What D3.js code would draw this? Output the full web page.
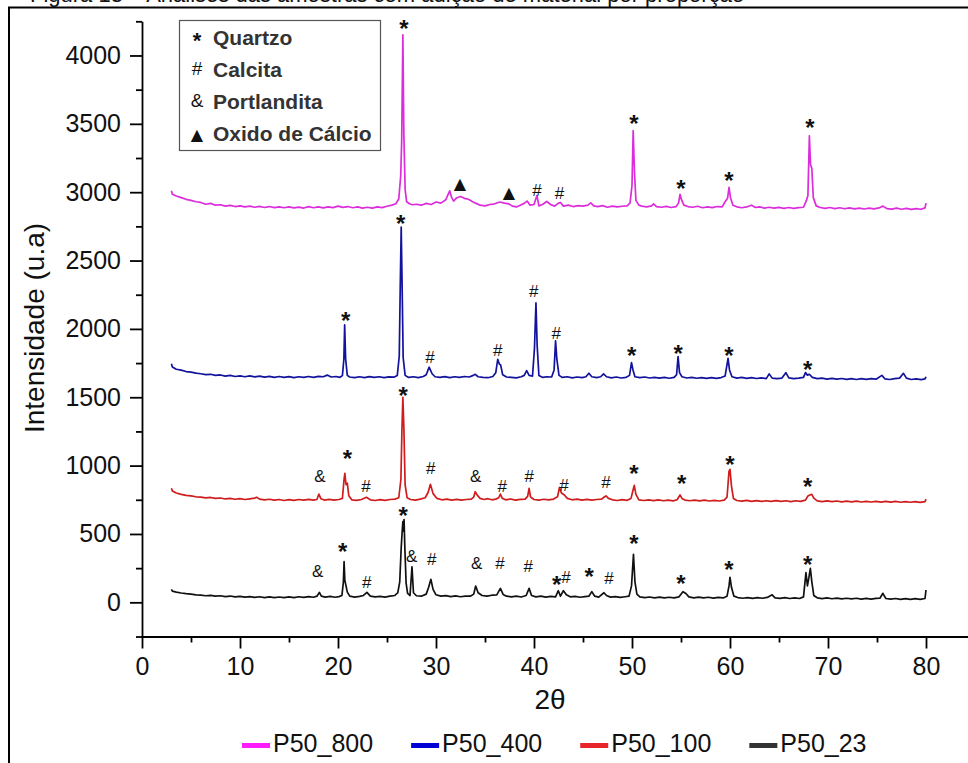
<!DOCTYPE html>
<html>
<head>
<meta charset="utf-8">
<script src="https://cdn.jsdelivr.net/npm/d3@7"></script>
<style>
  body { margin: 0; background: #fff; }
  text { font-family: Arial, "Liberation Sans", sans-serif; }
</style>
</head>
<body>
<svg id="chart" width="968" height="763"></svg>
<script>
const width = 968,
  height = 763;

// tick values
const xMajor = [0, 10, 20, 30, 40, 50, 60, 70, 80];
const xMinor = [5, 15, 25, 35, 45, 55, 65, 75, 85];
const yMajor = [0, 500, 1000, 1500, 2000, 2500, 3000, 3500, 4000];
const yMinor = [-250, 250, 750, 1250, 1750, 2250, 2750, 3250, 3750, 4250];

const seriesNames = ["P50_800", "P50_400", "P50_100", "P50_23"];

// [2theta, intensidade]
const p50_800 = [
  [3.0, 3010], [3.1, 2985], [3.5, 2972], [4.0, 2960], [4.5, 2948], [5.0, 2940], [5.5, 2930], [6.0, 2925],
  [6.5, 2912], [7.0, 2918], [7.5, 2905], [8.0, 2908], [8.5, 2898], [9.0, 2904], [9.5, 2895], [10.0, 2900],
  [10.5, 2892], [11.0, 2898], [11.5, 2890], [12.0, 2896], [12.5, 2888], [13.0, 2895], [13.5, 2887], [14.0, 2893],
  [14.5, 2886], [15.0, 2892], [15.5, 2885], [16.0, 2891], [16.5, 2884], [17.0, 2894], [17.5, 2886], [18.0, 2892],
  [18.5, 2885], [19.0, 2893], [19.5, 2887], [20.0, 2898], [20.5, 2889], [21.0, 2895], [21.5, 2886], [22.0, 2892],
  [22.5, 2884], [23.0, 2890], [23.5, 2883], [24.0, 2893], [24.5, 2887], [25.0, 2897], [25.5, 2905], [25.9, 2915],
  [26.2, 2950], [26.4, 3120], [26.5, 3380], [26.62, 4150], [26.72, 3420], [26.85, 3020], [27.0, 2930], [27.3, 2915],
  [27.6, 2908], [28.0, 2912], [28.5, 2905], [29.0, 2918], [29.5, 2910], [30.0, 2928], [30.5, 2920], [31.0, 2945],
  [31.4, 3010], [31.6, 2960], [31.8, 2935], [32.1, 2958], [32.5, 2968], [32.9, 2955], [33.3, 2948], [33.7, 2932],
  [34.1, 2918], [34.5, 2905], [35.0, 2900], [35.5, 2910], [36.0, 2915], [36.5, 2928], [37.0, 2920], [37.4, 2915],
  [37.8, 2898], [38.2, 2892], [38.6, 2905], [39.0, 2918], [39.3, 2935], [39.6, 2905], [40.0, 2910], [40.3, 2975],
  [40.5, 2900], [40.9, 2912], [41.3, 2932], [41.7, 2910], [42.1, 2898], [42.5, 2920], [42.7, 2925], [43.0, 2898],
  [43.5, 2905], [44.0, 2895], [44.5, 2902], [45.0, 2898], [45.5, 2905], [45.8, 2922], [46.1, 2900], [46.5, 2895],
  [47.0, 2902], [47.5, 2890], [48.0, 2898], [48.5, 2892], [49.0, 2897], [49.5, 2900], [49.8, 2920], [50.0, 3050],
  [50.12, 3450], [50.25, 3150], [50.4, 2940], [50.7, 2905], [51.0, 2898], [51.5, 2893], [52.0, 2900], [52.2, 2915],
  [52.5, 2895], [53.0, 2890], [53.5, 2896], [54.0, 2888], [54.5, 2895], [54.75, 2920], [54.9, 2985], [55.05, 2945],
  [55.3, 2905], [55.7, 2895], [56.2, 2890], [56.7, 2897], [57.2, 2886], [57.7, 2893], [58.2, 2887], [58.7, 2895],
  [59.2, 2892], [59.5, 2930], [59.75, 2955], [59.9, 3036], [60.05, 2960], [60.3, 2905], [60.7, 2893], [61.2, 2886],
  [61.7, 2892], [62.2, 2905], [62.6, 2888], [63.0, 2892], [63.5, 2884], [64.0, 2890], [64.5, 2883], [65.0, 2889],
  [65.5, 2882], [66.0, 2888], [66.5, 2881], [67.0, 2887], [67.5, 2890], [67.8, 2940], [67.95, 2975], [68.1, 3412],
  [68.22, 3200], [68.35, 3175], [68.5, 2960], [68.8, 2900], [69.2, 2888], [69.7, 2882], [70.2, 2888], [70.7, 2880],
  [71.2, 2886], [71.7, 2879], [72.2, 2885], [72.7, 2878], [73.2, 2884], [73.7, 2877], [74.2, 2883], [74.7, 2878],
  [75.2, 2885], [75.6, 2898], [76.0, 2880], [76.5, 2876], [77.0, 2883], [77.5, 2875], [78.0, 2881], [78.5, 2874],
  [79.0, 2880], [79.5, 2875], [79.9, 2885], [80.0, 2920]
];

const p50_400 = [
  [3.0, 1745], [3.1, 1722], [3.5, 1705], [4.0, 1698], [4.5, 1688], [5.0, 1684], [5.5, 1676], [6.0, 1672],
  [6.5, 1665], [7.0, 1668], [7.5, 1660], [8.0, 1663], [8.5, 1655], [9.0, 1660], [9.5, 1652], [10.0, 1657],
  [10.5, 1650], [11.0, 1656], [11.5, 1649], [12.0, 1655], [12.5, 1647], [13.0, 1653], [13.5, 1646], [14.0, 1652],
  [14.5, 1645], [15.0, 1651], [15.5, 1644], [16.0, 1650], [16.5, 1645], [17.0, 1652], [17.5, 1646], [18.0, 1653],
  [18.5, 1650], [18.9, 1662], [19.3, 1648], [19.8, 1652], [20.2, 1646], [20.45, 1658], [20.6, 1780], [20.68, 2030],
  [20.78, 1780], [20.95, 1660], [21.2, 1648], [21.7, 1643], [22.2, 1650], [22.7, 1644], [23.2, 1651], [23.7, 1645],
  [24.2, 1650], [24.7, 1643], [25.2, 1649], [25.7, 1647], [26.05, 1660], [26.25, 1800], [26.35, 2300], [26.45, 2745],
  [26.55, 2280], [26.65, 1790], [26.85, 1660], [27.2, 1645], [27.7, 1650], [28.2, 1644], [28.7, 1652], [29.0, 1665],
  [29.3, 1720], [29.6, 1672], [29.9, 1650], [30.4, 1645], [30.9, 1651], [31.4, 1644], [31.9, 1650], [32.4, 1645],
  [32.9, 1652], [33.4, 1648], [33.8, 1660], [34.0, 1668], [34.3, 1650], [34.8, 1645], [35.3, 1643], [35.8, 1652],
  [36.1, 1680], [36.3, 1778], [36.45, 1745], [36.6, 1735], [36.8, 1665], [37.2, 1648], [37.7, 1645], [38.2, 1642],
  [38.7, 1650], [39.0, 1660], [39.25, 1695], [39.5, 1660], [39.85, 1655], [40.05, 1860], [40.2, 2190], [40.32, 1880],
  [40.5, 1660], [40.9, 1645], [41.3, 1650], [41.8, 1648], [42.05, 1700], [42.2, 1912], [42.33, 1780], [42.55, 1660],
  [42.9, 1645], [43.4, 1650], [43.9, 1642], [44.4, 1648], [44.9, 1644], [45.3, 1650], [45.6, 1676], [45.9, 1650],
  [46.4, 1644], [46.8, 1650], [47.1, 1671], [47.4, 1650], [47.9, 1642], [48.4, 1648], [48.9, 1641], [49.4, 1646],
  [49.75, 1660], [49.95, 1753], [50.1, 1700], [50.3, 1650], [50.8, 1643], [51.3, 1648], [51.8, 1641], [52.3, 1646],
  [52.8, 1640], [53.3, 1645], [53.8, 1639], [54.3, 1645], [54.55, 1665], [54.7, 1797], [54.85, 1680], [55.1, 1650],
  [55.6, 1641], [56.1, 1646], [56.6, 1639], [57.1, 1644], [57.6, 1638], [58.1, 1644], [58.6, 1638], [59.1, 1644],
  [59.5, 1655], [59.8, 1785], [59.95, 1700], [60.2, 1650], [60.7, 1640], [61.2, 1645], [61.7, 1638], [62.2, 1643],
  [62.7, 1637], [63.2, 1642], [63.7, 1636], [64.0, 1671], [64.3, 1640], [64.8, 1636], [65.3, 1640], [65.7, 1680],
  [66.0, 1642], [66.5, 1636], [67.0, 1640], [67.5, 1645], [67.7, 1680], [67.9, 1662], [68.1, 1668], [68.4, 1645],
  [68.9, 1636], [69.4, 1640], [69.9, 1633], [70.4, 1638], [70.9, 1632], [71.4, 1637], [71.9, 1631], [72.4, 1636],
  [72.9, 1630], [73.4, 1636], [73.9, 1631], [74.4, 1636], [74.9, 1632], [75.5, 1660], [75.8, 1635], [76.3, 1630],
  [76.8, 1636], [77.3, 1640], [77.7, 1675], [78.0, 1640], [78.5, 1630], [79.0, 1635], [79.5, 1629], [79.9, 1634],
  [80.0, 1650]
];

const p50_100 = [
  [3.0, 835], [3.1, 815], [3.5, 800], [4.0, 790], [4.5, 782], [5.0, 778], [5.5, 772], [6.0, 770],
  [6.5, 764], [7.0, 767], [7.5, 760], [8.0, 763], [8.5, 756], [9.0, 760], [9.5, 754], [10.0, 758],
  [10.5, 752], [11.0, 757], [11.5, 762], [11.7, 768], [12.0, 755], [12.5, 749], [13.0, 754], [13.5, 747],
  [14.0, 752], [14.5, 745], [15.0, 751], [15.5, 746], [16.0, 752], [16.5, 747], [17.0, 753], [17.5, 748],
  [17.85, 752], [18.05, 792], [18.25, 758], [18.6, 748], [19.1, 753], [19.6, 747], [20.1, 752], [20.45, 760],
  [20.62, 900], [20.7, 943], [20.82, 860], [20.95, 871], [21.1, 780], [21.4, 750], [21.9, 746], [22.4, 752],
  [22.9, 768], [23.3, 750], [23.8, 745], [24.3, 751], [24.8, 746], [25.3, 752], [25.8, 755], [26.2, 765],
  [26.42, 900], [26.52, 1250], [26.62, 1500], [26.72, 1280], [26.85, 860], [27.05, 765], [27.4, 752], [27.9, 748],
  [28.4, 755], [28.9, 765], [29.2, 805], [29.43, 863], [29.7, 795], [30.1, 760], [30.6, 750], [31.1, 755],
  [31.6, 748], [32.1, 753], [32.6, 747], [33.1, 752], [33.6, 755], [33.85, 770], [34.0, 809], [34.25, 780],
  [34.5, 760], [34.9, 752], [35.3, 758], [35.7, 750], [36.1, 755], [36.4, 765], [36.57, 792], [36.75, 762],
  [37.1, 750], [37.6, 756], [38.1, 748], [38.6, 753], [39.1, 755], [39.35, 775], [39.5, 834], [39.65, 770],
  [40.0, 752], [40.5, 748], [41.0, 754], [41.5, 749], [42.0, 755], [42.4, 772], [42.6, 840], [42.8, 800],
  [43.1, 785], [43.4, 760], [43.9, 750], [44.4, 755], [44.9, 748], [45.4, 753], [45.9, 747], [46.4, 752],
  [46.9, 755], [47.2, 772], [47.35, 778], [47.6, 760], [48.0, 750], [48.5, 745], [49.0, 751], [49.5, 746],
  [49.9, 760], [50.1, 820], [50.23, 855], [50.4, 790], [50.7, 750], [51.2, 745], [51.7, 750], [52.2, 744],
  [52.7, 749], [53.2, 743], [53.7, 748], [54.2, 742], [54.6, 750], [54.9, 785], [55.1, 760], [55.4, 748],
  [55.9, 743], [56.4, 748], [56.9, 742], [57.4, 747], [57.9, 741], [58.4, 746], [58.9, 741], [59.4, 748],
  [59.7, 770], [59.9, 960], [60.0, 973], [60.15, 850], [60.35, 760], [60.7, 745], [61.2, 740], [61.7, 746],
  [62.2, 739], [62.7, 744], [63.2, 738], [63.7, 743], [64.2, 738], [64.7, 744], [65.2, 738], [65.7, 743],
  [66.2, 737], [66.7, 743], [67.2, 738], [67.7, 748], [67.95, 778], [68.15, 785], [68.35, 790], [68.55, 762],
  [68.9, 742], [69.4, 737], [69.9, 742], [70.4, 736], [70.9, 741], [71.4, 735], [71.9, 740], [72.4, 735],
  [72.9, 740], [73.4, 734], [73.9, 739], [74.4, 734], [74.9, 739], [75.4, 733], [75.9, 738], [76.4, 733],
  [76.9, 738], [77.4, 732], [77.9, 737], [78.4, 732], [78.9, 737], [79.4, 731], [79.9, 736], [80.0, 755]
];

const p50_23 = [
  [3.0, 95], [3.1, 82], [3.5, 75], [4.0, 68], [4.5, 63], [5.0, 60], [5.5, 55], [6.0, 53],
  [6.5, 48], [7.0, 51], [7.5, 45], [8.0, 48], [8.5, 42], [9.0, 46], [9.5, 40], [10.0, 44],
  [10.5, 38], [11.0, 42], [11.5, 36], [12.0, 41], [12.5, 35], [13.0, 40], [13.5, 34], [14.0, 39],
  [14.5, 34], [15.0, 40], [15.5, 35], [16.0, 41], [16.5, 36], [17.0, 42], [17.5, 37], [17.85, 45],
  [18.1, 73], [18.3, 45], [18.7, 38], [19.2, 43], [19.7, 37], [20.1, 42], [20.4, 50], [20.55, 150],
  [20.62, 297], [20.7, 160], [20.82, 120], [20.95, 75], [21.2, 45], [21.7, 38], [22.2, 43], [22.6, 50],
  [22.95, 73], [23.3, 45], [23.8, 40], [24.3, 44], [24.8, 38], [25.3, 45], [25.8, 50], [26.1, 70],
  [26.3, 150], [26.45, 400], [26.55, 520], [26.62, 590], [26.68, 520], [26.74, 605], [26.82, 400], [26.95, 140],
  [27.1, 65], [27.35, 50], [27.55, 260], [27.7, 70], [28.0, 48], [28.5, 45], [29.0, 60], [29.25, 110],
  [29.48, 168], [29.7, 95], [30.0, 55], [30.5, 45], [31.0, 49], [31.5, 42], [32.0, 47], [32.5, 41],
  [33.0, 46], [33.5, 45], [33.85, 60], [34.05, 119], [34.3, 70], [34.7, 50], [35.2, 45], [35.7, 52],
  [36.2, 55], [36.57, 102], [36.85, 58], [37.2, 45], [37.7, 40], [38.2, 45], [38.7, 39], [39.2, 50],
  [39.5, 102], [39.75, 50], [40.2, 40], [40.7, 45], [41.2, 38], [41.7, 43], [42.2, 40], [42.48, 85],
  [42.7, 45], [43.0, 85], [43.3, 55], [43.7, 40], [44.2, 44], [44.7, 37], [45.2, 42], [45.6, 45],
  [45.9, 78], [46.2, 45], [46.6, 38], [47.14, 70], [47.4, 50], [47.8, 38], [48.3, 42], [48.8, 36],
  [49.3, 41], [49.7, 45], [49.95, 120], [50.15, 350], [50.3, 150], [50.5, 60], [50.8, 40], [51.3, 34],
  [51.8, 39], [52.3, 33], [52.8, 38], [53.3, 32], [53.8, 37], [54.3, 33], [54.8, 40], [55.2, 78],
  [55.5, 65], [55.8, 40], [56.3, 33], [56.8, 38], [57.3, 32], [57.8, 37], [58.3, 31], [58.8, 36],
  [59.3, 32], [59.7, 45], [59.9, 120], [60.0, 183], [60.15, 110], [60.4, 45], [60.8, 35], [61.3, 30],
  [61.8, 35], [62.3, 29], [62.8, 34], [63.3, 30], [63.8, 36], [64.3, 55], [64.6, 33], [65.1, 29],
  [65.6, 34], [66.1, 28], [66.6, 33], [67.1, 28], [67.5, 40], [67.75, 217], [67.9, 120], [68.05, 180],
  [68.2, 249], [68.35, 150], [68.55, 50], [68.9, 33], [69.4, 27], [69.9, 32], [70.4, 26], [70.9, 31],
  [71.4, 25], [71.9, 30], [72.4, 25], [72.9, 30], [73.4, 24], [73.9, 29], [74.4, 24], [74.9, 29],
  [75.3, 30], [75.6, 66], [75.9, 28], [76.4, 23], [76.9, 28], [77.4, 22], [77.9, 27], [78.4, 22],
  [78.9, 27], [79.4, 22], [79.9, 28], [80.0, 90]
];

// phase markers: [2theta, intensidade] where the symbol sits
const quartzo = [
  [26.73, 4224], [50.2, 3529], [55.0, 3050], [59.9, 3112], [68.16, 3499],
  [20.79, 2090], [26.4, 2800], [49.97, 1828], [54.7, 1846], [59.9, 1834], [67.93, 1731],
  [20.95, 1078], [26.66, 1541], [50.2, 968], [55.07, 895], [60.0, 1036], [67.93, 871],
  [20.48, 395], [26.66, 659], [42.32, 158], [45.64, 217], [50.2, 456], [55.0, 163], [59.9, 268], [67.93, 304]
];
const calcita = [
  [40.31, 3017], [42.6, 2995],
  [29.39, 1793], [36.3, 1846], [39.97, 2278], [42.28, 1973],
  [22.86, 853], [29.46, 980], [36.77, 853], [39.52, 924], [43.06, 858], [47.35, 878],
  [22.93, 151], [29.56, 317], [36.53, 290], [39.42, 268], [43.27, 187], [47.65, 176]
];
const portlandita = [
  [18.16, 924], [34.05, 926],
  [17.93, 231], [27.52, 339], [34.15, 285]
];
const oxidoCalcio = [[32.45, 3068], [37.45, 3004]];

const phases = [
  { label: "Quartzo", symbol: "*", marks: quartzo },
  { label: "Calcita", symbol: "#", marks: calcita },
  { label: "Portlandita", symbol: "&", marks: portlandita },
  { label: "Oxido de Cálcio", symbol: "\u25B2", marks: oxidoCalcio }
];

const lineColors = ["#dc2ddc", "#12129c", "#cf1c1c", "#111111"];
const swatchColors = ["#ff1aff", "#0000d4", "#e8262a", "#333333"];
const allSeries = [p50_800, p50_400, p50_100, p50_23];

// symbol styling: font size, weight, and shift so the glyph centre sits on the point
const symbolStyle = {
  "*": { size: 24, weight: "bold", shift: 0.5 },
  "#": { size: 17, weight: "normal", shift: 0.36 },
  "&": { size: 17, weight: "normal", shift: 0.36 },
  "\u25B2": { size: 16, weight: "normal", shift: 0.4 }
};

const svg = d3.select("#chart");

svg.append("rect")
  .attr("width", width)
  .attr("height", height)
  .attr("fill", "#fff");

// caption of the page, cut off by the top edge as in the scan
svg.append("text")
  .attr("x", 30)
  .attr("y", 2)
  .style("font-size", "22px")
  .attr("fill", "#111")
  .text("Figura 13 – Análises das amostras com adição de material por proporção");

svg.append("rect")
  .attr("x", 9)
  .attr("y", 7.5)
  .attr("width", 1100)
  .attr("height", 900)
  .attr("fill", "none")
  .attr("stroke", "#000")
  .attr("stroke-width", 2);

const x = d3.scaleLinear().domain([0, 85]).range([142, 975]);
const y = d3.scaleLinear().domain([-250, 4250]).range([636.5, 21.3]);

// axes
svg.append("g")
  .attr("transform", `translate(0,${y(-250)})`)
  .call(d3.axisBottom(x).tickValues(xMajor).tickSize(12).tickSizeOuter(0).tickPadding(9).tickFormat(d3.format("d")));
svg.append("g")
  .attr("transform", `translate(0,${y(-250)})`)
  .call(d3.axisBottom(x).tickValues(xMinor).tickSize(6).tickSizeOuter(0).tickFormat(""))
  .select(".domain").remove();

svg.append("g")
  .attr("transform", `translate(${x(0)},0)`)
  .call(d3.axisLeft(y).tickValues(yMajor).tickSize(12).tickSizeOuter(0).tickPadding(9).tickFormat(d3.format("d")));
svg.append("g")
  .attr("transform", `translate(${x(0)},0)`)
  .call(d3.axisLeft(y).tickValues(yMinor).tickSize(6).tickSizeOuter(0).tickFormat(""))
  .select(".domain").remove();

svg.selectAll(".domain, .tick line")
  .attr("stroke", "#000")
  .attr("stroke-width", 1.8);
svg.selectAll(".tick text")
  .attr("fill", "#111")
  .style("font-family", "Arial, 'Liberation Sans', sans-serif")
  .style("font-size", "25px");

svg.append("text")
  .attr("transform", "translate(44,328) rotate(-90)")
  .attr("text-anchor", "middle")
  .style("font-size", "28px")
  .attr("fill", "#111")
  .text("Intensidade (u.a)");

svg.append("text")
  .attr("x", 550)
  .attr("y", 709)
  .attr("text-anchor", "middle")
  .style("font-size", "28px")
  .attr("fill", "#111")
  .text("2\u03B8");

// diffractograms
const line = d3.line()
  .x(d => x(d[0]))
  .y(d => y(d[1]));

svg.append("g")
  .selectAll("path")
  .data(allSeries)
  .enter()
  .append("path")
  .attr("d", line)
  .attr("fill", "none")
  .attr("stroke", (d, i) => lineColors[i])
  .attr("stroke-width", 1.7)
  .attr("stroke-linejoin", "round");

// phase markers
phases.forEach(phase => {
  const st = symbolStyle[phase.symbol];
  svg.append("g")
    .selectAll("text")
    .data(phase.marks)
    .enter()
    .append("text")
    .attr("x", d => x(d[0]))
    .attr("y", d => y(d[1]) + st.shift * st.size)
    .attr("text-anchor", "middle")
    .style("font-size", st.size + "px")
    .style("font-weight", st.weight)
    .style("font-family", phase.symbol === "\u25B2" ? "'DejaVu Sans', sans-serif" : null)
    .attr("fill", "#111")
    .text(phase.symbol);
});

// phase legend box
const box = svg.append("g");
box.append("rect")
  .attr("x", 179.5)
  .attr("y", 20.5)
  .attr("width", 201)
  .attr("height", 130)
  .attr("fill", "#fff")
  .attr("stroke", "#555")
  .attr("stroke-width", 1.2);

const rows = box.selectAll("g.row")
  .data(phases)
  .enter()
  .append("g")
  .attr("class", "row")
  .attr("transform", (d, i) => `translate(0,${37 + i * 32})`);

rows.append("text")
  .attr("x", 197)
  .attr("y", d => symbolStyle[d.symbol].shift * (d.symbol === "*" ? 22 : 18))
  .attr("text-anchor", "middle")
  .style("font-size", d => (d.symbol === "*" ? 22 : d.symbol === "\u25B2" ? 16 : 19) + "px")
  .style("font-weight", d => (d.symbol === "*" ? "bold" : "normal"))
  .style("font-family", d => (d.symbol === "\u25B2" ? "'DejaVu Sans', sans-serif" : null))
  .attr("fill", "#111")
  .text(d => d.symbol);

rows.append("text")
  .attr("x", 213)
  .attr("y", 7.5)
  .style("font-size", "21px")
  .style("font-weight", "bold")
  .attr("fill", "#333")
  .text(d => d.label);

// series legend below the axis
const legend = svg.append("g");
let lx = 242;
seriesNames.forEach((name, i) => {
  legend.append("rect")
    .attr("x", lx)
    .attr("y", 743)
    .attr("width", 28)
    .attr("height", 5)
    .attr("fill", swatchColors[i]);
  const t = legend.append("text")
    .attr("x", lx + 31)
    .attr("y", 752)
    .style("font-size", "25px")
    .attr("fill", "#111")
    .text(name);
  lx += 31 + t.node().getComputedTextLength() + 38;
});
</script>
</body>
</html>
